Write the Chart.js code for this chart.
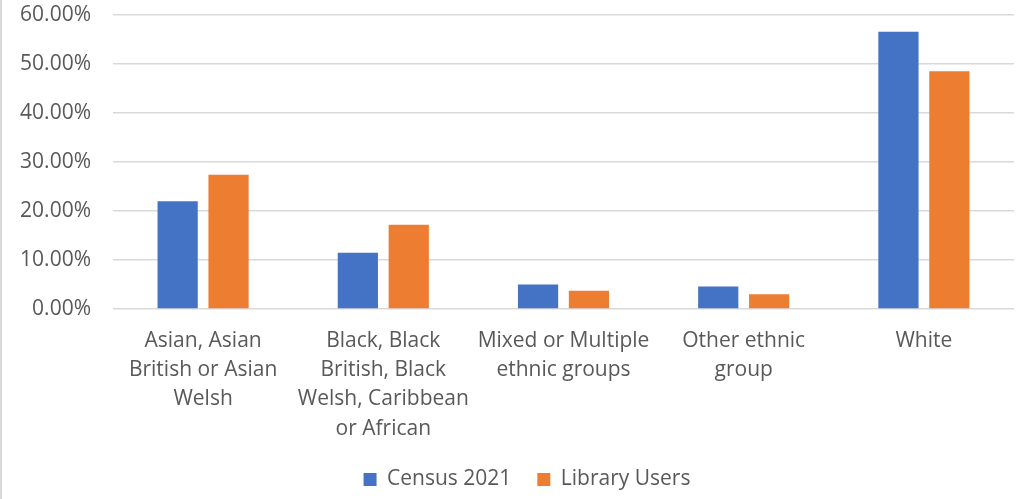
<!DOCTYPE html>
<html>
<head>
<meta charset="utf-8">
<script src="https://cdn.jsdelivr.net/npm/chart.js@4"></script>
<style>
  html, body { margin: 0; padding: 0; background: #fff; }
  .frame {
    position: relative;
    width: 1022px;
    height: 499px;
    box-sizing: border-box;
    border-left: 2px solid #d9d9d9;
  }
  .frame canvas { position: absolute; left: 0; top: 0; }
</style>
</head>
<body>
<div class="frame">
  <canvas id="ethnicityChart" width="1020" height="499"></canvas>
</div>
<script>
// Ethnic group share: census vs library users
const categories = [
  ['Asian, Asian', 'British or Asian', 'Welsh'],
  ['Black, Black', 'British, Black', 'Welsh, Caribbean', 'or African'],
  ['Mixed or Multiple', 'ethnic groups'],
  ['Other ethnic', 'group'],
  ['White']
];
const censusValues = [22.0, 11.5, 5.0, 4.6, 56.6];
const libraryValues = [27.4, 17.2, 3.7, 3.0, 48.5];
const seriesNames = ['Census 2021', 'Library Users'];

const TEXT = '#595959';
const FONT = "'Open Sans', sans-serif";

// wide gaps between legend items but a short legend box,
// nudged a little right of the canvas centre
const legendTweak = {
  id: 'legendTweak',
  afterInit(chart) {
    const legend = chart.legend;
    const fit = legend.fit;
    legend.fit = function () {
      fit.call(this);
      this.height = 59;
    };
  },
  afterLayout(chart) {
    chart.legend.left += 19;
    chart.legend.right += 19;
  }
};

const ctx = document.getElementById('ethnicityChart').getContext('2d');
new Chart(ctx, {
  type: 'bar',
  plugins: [legendTweak],
  data: {
    labels: categories,
    datasets: [
      {
        label: seriesNames[0],
        data: censusValues,
        backgroundColor: '#4472c4',
        categoryPercentage: 0.565,
        barPercentage: 0.79
      },
      {
        label: seriesNames[1],
        data: libraryValues,
        backgroundColor: '#ed7d31',
        categoryPercentage: 0.565,
        barPercentage: 0.79
      }
    ]
  },
  options: {
    responsive: false,
    animation: false,
    layout: {
      padding: { top: 15, right: 8, left: 0, bottom: -3 }
    },
    plugins: {
      tooltip: { enabled: false },
      legend: {
        position: 'bottom',
        labels: {
          color: TEXT,
          font: { family: FONT, size: 21 },
          boxWidth: 13,
          boxHeight: 13,
          padding: 26
        }
      }
    },
    scales: {
      x: {
        grid: { display: false, drawTicks: false },
        border: { display: false },
        ticks: {
          color: TEXT,
          font: { family: FONT, size: 21, lineHeight: 1.4 },
          maxRotation: 0,
          autoSkip: false,
          padding: 17
        },
        afterFit: scale => { scale.height = 134; }
      },
      y: {
        min: 0,
        max: 60,
        grid: {
          color: '#d9d9d9',
          lineWidth: 1.5,
          drawTicks: false
        },
        border: { display: false },
        ticks: {
          stepSize: 10,
          color: TEXT,
          font: { family: FONT, size: 21 },
          padding: 22,
          callback: v => v.toFixed(2) + '%'
        },
        afterFit: scale => {
          // fixed axis width; keep tick padding from pushing the plot down
          scale.width = 111;
          scale.paddingTop = 0;
          scale.paddingBottom = 0;
        }
      }
    }
  }
});
</script>
</body>
</html>
